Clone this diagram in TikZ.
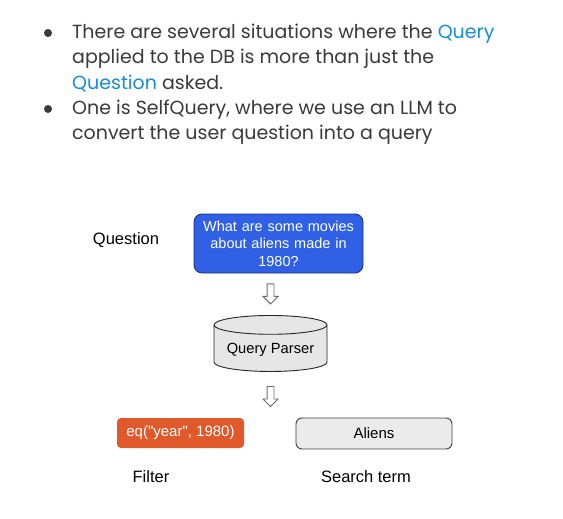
\documentclass[tikz,border=0pt]{standalone}
\usepackage{fontspec}
\setmainfont{Liberation Sans}
\newfontfamily\popfont{Poppins}
\newfontfamily\codefont{Liberation Sans}
\usetikzlibrary{shapes.geometric, shapes.arrows, arrows.meta, positioning}
\definecolor{txtgray}{HTML}{3A3A3A}
\definecolor{linkblue}{HTML}{1A8CD8}
\definecolor{qblue}{HTML}{2F60E6}
\definecolor{qborder}{HTML}{1C327A}
\definecolor{filterorange}{HTML}{E0592A}
\definecolor{termgray}{HTML}{EBEBEB}
\definecolor{parsergray}{HTML}{E6E6E6}

\begin{document}
\begin{tikzpicture}[
    x=1pt, y=-1pt,
    lbl/.style={font=\fontsize{16.5}{19}\selectfont, text=black},
    bullet/.style={circle, fill=txtgray, inner sep=0pt, minimum size=8pt},
    point/.style={anchor=west, align=left, inner sep=0pt, text=txtgray, font=\popfont\fontsize{19}{25.5}\selectfont},
    box/.style={rectangle, rounded corners=4pt, draw, text centered, inner sep=2pt, font=\fontsize{15}{17.5}\selectfont},
    flow/.style={single arrow, shape border rotate=270, draw=gray!85!black, fill=white, line width=0.9pt,
        minimum height=20pt, minimum width=14pt, single arrow head extend=4pt, inner sep=3pt}
]
    \useasboundingbox [fill=white] (0,0) rectangle (563,519);

    % bullet points
    \node [bullet] (b1) at (48,33) {};
    \node [point] (p1) at (72,58) {There are several situations where the \textcolor{linkblue}{Query}\\
        applied to the DB is more than just the\\
        \textcolor{linkblue}{Question} asked.};
    \node [bullet] (b2) at (48,109) {};
    \node [point] (p2) at (72,122) {One is SelfQuery, where we use an LLM to\\
        convert the user question into a query};

    % diagram
    \node [box, rounded corners=8pt, fill=qblue, draw=qborder, line width=0.9pt, text=white, text width=165pt,
        minimum height=59pt, font=\fontsize{14.5}{17.5}\selectfont] (q) at (278.5,243.5)
        {What are some movies\\ about aliens made in\\ 1980?};
    \node [lbl] (qlabel) at (126,240) {Question};
    \node [cylinder, shape border rotate=90, aspect=0.2, draw=black!85, fill=parsergray, line width=0.9pt,
        minimum width=113pt, minimum height=56pt, font=\fontsize{14.7}{16}\selectfont] (parser) at (270.5,350) {Query Parser};
    \node [box, fill=filterorange, draw=none, text=white, minimum width=127pt, minimum height=30pt] (filter) at (180.5,433)
        {\codefont eq("year", 1980)};
    \node [box, rounded corners=6pt, fill=termgray, draw=black!75, line width=0.9pt, minimum width=156pt, minimum height=31pt] (term) at (374,433.5) {Aliens};
    \node [lbl] (flabel) at (151,477) {Filter};
    \node [lbl] (tlabel) at (366,477) {Search term};

    \coordinate (split) at (parser.south |- term.north);
    \path (parser.north |- q.south) -- node [flow, pos=0.45] (a1) {} (parser.north);
    \path (parser.south) -- node [flow] (a2) {} (split);
\end{tikzpicture}
\end{document}
